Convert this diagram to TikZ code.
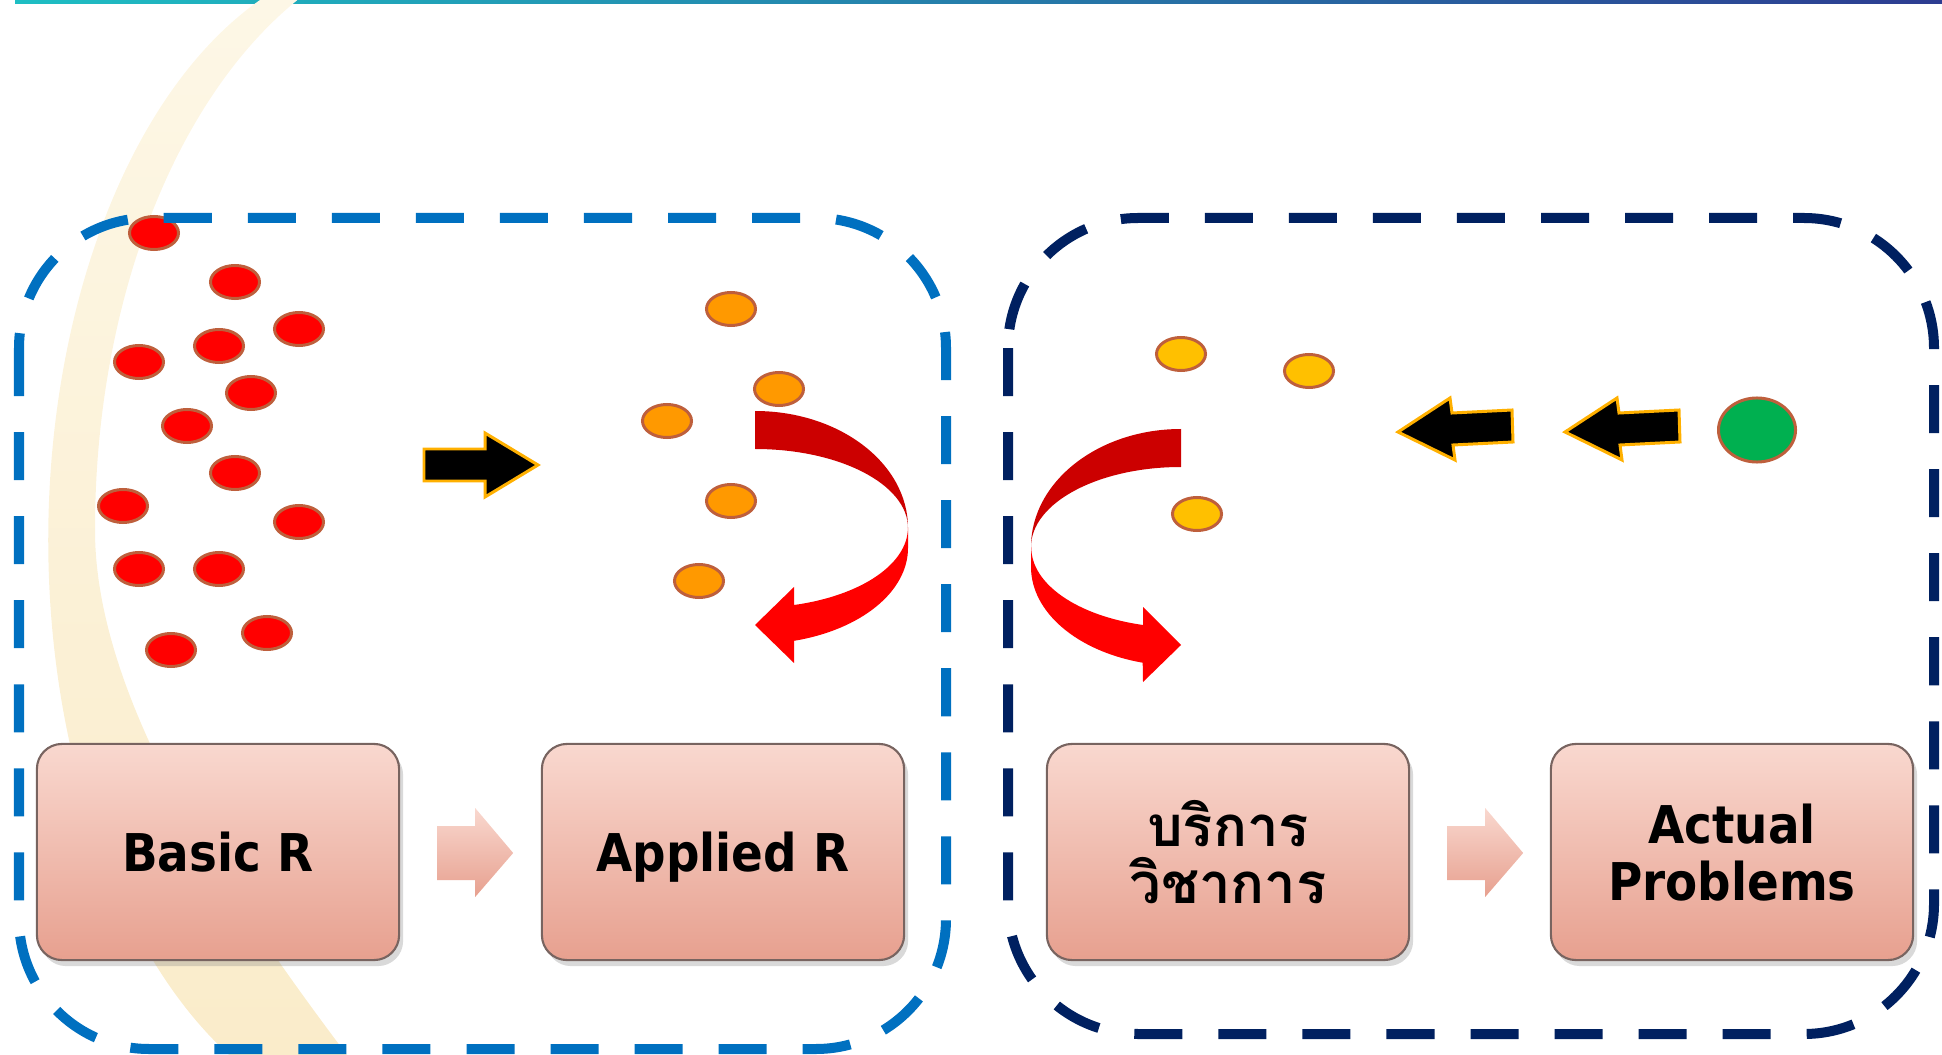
\documentclass[tikz,border=0pt]{standalone}
\usepackage{fontspec}
\newfontfamily\boxfont{DejaVu Sans}[FakeStretch=0.9]
\newfontfamily\thaifont[Script=Thai]{Loma}
\usetikzlibrary{shapes.geometric,shadows}

\definecolor{blueline}{RGB}{0,112,192}
\definecolor{navyline}{RGB}{0,32,96}
\definecolor{pinktop}{RGB}{249,216,207}
\definecolor{pinkbot}{RGB}{231,160,143}
\definecolor{boxline}{RGB}{120,100,96}
\definecolor{dotrim}{RGB}{190,95,60}
\definecolor{reddot}{RGB}{255,0,0}
\definecolor{orangedot}{RGB}{255,153,0}
\definecolor{yellowdot}{RGB}{255,192,0}
\definecolor{greendot}{RGB}{0,176,80}
\definecolor{arrowgold}{RGB}{255,176,0}
\definecolor{darkcurl}{RGB}{204,0,0}
\definecolor{brightcurl}{RGB}{255,0,0}
\definecolor{creamtop}{RGB}{253,247,230}
\definecolor{creambot}{RGB}{250,236,202}
\definecolor{barleft}{RGB}{30,190,195}
\definecolor{barmid}{RGB}{50,150,200}
\definecolor{barright}{RGB}{45,60,145}

\tikzset{
  dot/.style={ellipse, draw=dotrim, line width=0.85pt, minimum width=0.49cm,
    minimum height=0.33cm, inner sep=0pt},
  stage/.style={rectangle, rounded corners=0.25cm, draw=boxline, line width=0.6pt,
    top color=pinktop, bottom color=pinkbot, minimum width=3.62cm,
    minimum height=2.16cm, align=center, text depth=0pt,
    font=\boxfont\bfseries\fontsize{14.8pt}{16.2pt}\selectfont,
    drop shadow={shadow xshift=0.04cm, shadow yshift=-0.06cm, opacity=0.3}},
  zone/.style={dash pattern=on 0.48cm off 0.36cm, line width=0.1cm,
    rounded corners=1.3cm},
  blkarrow/.style={fill=black, draw=arrowgold, line width=0.85pt},
  pinkarrow/.style={top color=pinktop, bottom color=pinkbot},
}

\begin{document}
\begin{tikzpicture}[x=0.01cm, y=-0.01cm]
  \useasboundingbox (0,0) rectangle (1942,1055);

  % top bar and the cream band behind everything
  \shade[left color=barleft, middle color=barmid, right color=barright]
    (15,0) rectangle (1942,4);
  \shade[top color=creamtop, bottom color=creambot]
    (260,0) arc[start angle=-112.4, end angle=-241.9, x radius=342, y radius=584]
    -- (347,1055) .. controls (230,900) and (95,700) .. (95,530)
    arc[start angle=180, end angle=243.3, x radius=367, y radius=593] -- cycle;

  % dots
  \foreach \x/\y [count=\i] in {154/233, 235/282, 299/329, 219/346, 139/362,
      251/393, 187/426, 235/473, 123/506, 299/522, 139/569, 219/569, 267/633, 171/650}
    \node[dot, fill=reddot] (r\i) at (\x,\y) {};
  \foreach \x/\y [count=\i] in {731/309, 779/389, 667/421, 731/501, 699/581}
    \node[dot, fill=orangedot] (o\i) at (\x,\y) {};
  \foreach \x/\y [count=\i] in {1181/354, 1309/371, 1197/514}
    \node[dot, fill=yellowdot] (y\i) at (\x,\y) {};
  \node[dot, fill=greendot, minimum width=0.77cm, minimum height=0.64cm] (g) at (1757,430) {};

  % dashed zones
  \draw[zone, blueline] (19,218) rectangle (946,1049);
  \draw[zone, navyline] (1008,218) rectangle (1934,1034);

  % black arrows
  \draw[blkarrow] (424,449) -- (485,449) -- (485,433) -- (538,465) -- (485,497)
    -- (485,481) -- (424,481) -- cycle;
  \foreach \dx in {0,167}
    \draw[blkarrow, shift={(\dx,0)}] (1398,432) -- (1450,398) -- (1452,413)
      -- (1512,410) -- (1513,442) -- (1453,445) -- (1455,460) -- cycle;

  % curled arrows
  \fill[darkcurl] (755,411) arc[start angle=-90, end angle=0, x radius=153, y radius=117]
    arc[start angle=0, end angle=-90, x radius=153, y radius=79] -- cycle;
  \fill[brightcurl] (908,528) -- (908,548)
    arc[start angle=0, end angle=75.2, x radius=153, y radius=96]
    -- (794,663) -- (755,625) -- (794,587) -- (794,605)
    arc[start angle=75.2, end angle=0, x radius=153, y radius=80] -- cycle;
  \fill[darkcurl] (1181,429) arc[start angle=-90, end angle=-180, x radius=150, y radius=118]
    arc[start angle=180, end angle=270, x radius=150, y radius=80] -- cycle;
  \fill[brightcurl] (1031,547) -- (1031,567)
    arc[start angle=180, end angle=104.8, x radius=150, y radius=99]
    -- (1143,682) -- (1181,645) -- (1143,607) -- (1143,625)
    arc[start angle=104.8, end angle=180, x radius=150, y radius=80] -- cycle;

  % stages
  \node[stage] (basic) at (218,852) {Basic R};
  \node[stage] (applied) at (723,852) {Applied R};
  \node[stage, font=\thaifont\bfseries\fontsize{16pt}{16.2pt}\selectfont] (service)
    at (1228,852) {บริการ\\วิชาการ};
  \node[stage] (actual) at (1732,852) {Actual\\Problems};

  % pink arrows between stages
  \foreach \a in {basic, service}
    \shade[pinkarrow, shift={(\a.east)}] (37,-26) -- (75,-26) -- (75,-44) -- (113,1)
      -- (75,45) -- (75,28) -- (37,28) -- cycle;
\end{tikzpicture}
\end{document}
